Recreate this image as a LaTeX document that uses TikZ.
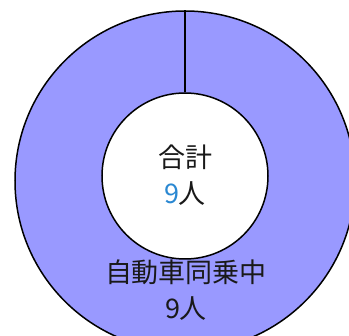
\documentclass[tikz,border=0pt]{standalone}
\usepackage{fontspec}
\newfontfamily\jpfont{Noto Sans CJK JP}
\definecolor{ringfill}{HTML}{9999FF}
\definecolor{totalblue}{HTML}{2A88D2}
\tikzset{
  ring/.style={circle, draw=black, line width=1.5pt, inner sep=0pt},
  lbl/.style={font=\jpfont\fontsize{27}{30}\selectfont, text=black!90}
}
\begin{document}
\begin{tikzpicture}[x=1pt,y=-1pt]
  \useasboundingbox (0,0) rectangle (349,336);
  \clip (0,0) rectangle (349,336);
  \node[ring, fill=ringfill, minimum size=340pt] (outer) at (185,181) {};
  \node[ring, fill=white, minimum size=166pt] (inner) at (185,176) {};
  \begin{scope}[line width=1.5pt]
    \draw (outer.north) to (inner.north);
  \end{scope}
  \node[lbl] (total) at (185,157) {合計};
  \node[lbl] (totalnum) at (185,194) {\textcolor{totalblue}{9}人};
  \node[lbl] (mode) at (186,272) {自動車同乗中};
  \node[lbl] (modenum) at (186,309) {9人};
\end{tikzpicture}
\end{document}
